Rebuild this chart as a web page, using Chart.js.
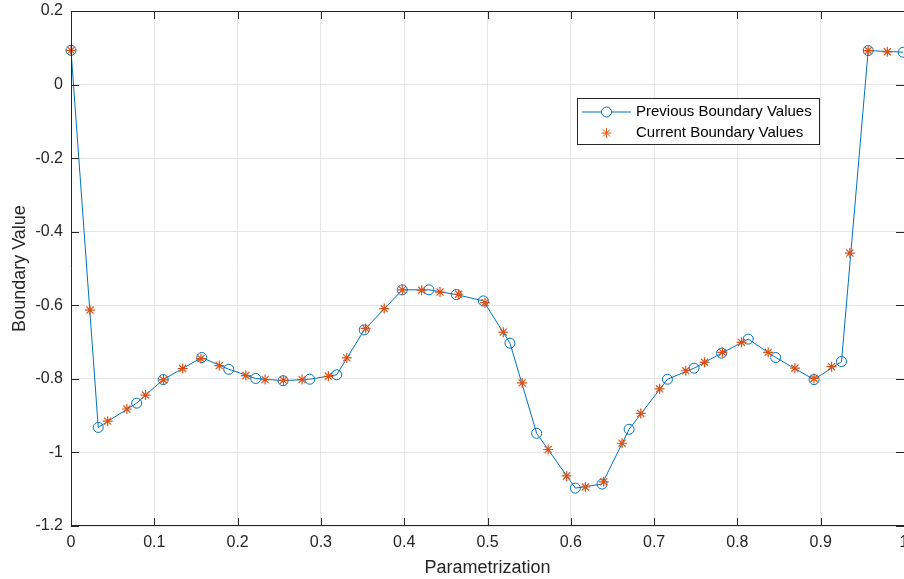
<!DOCTYPE html>
<html>
<head>
<meta charset="utf-8">
<script src="https://cdn.jsdelivr.net/npm/chart.js@4"></script>
<style>
  body { margin: 0; background: #fff; overflow: hidden; }
</style>
</head>
<body>
<canvas id="boundaryChart" width="904" height="579"></canvas>
<script>
// previous boundary values (circles + line)
const prevX = [0, 0.0327, 0.0788, 0.1107, 0.157, 0.1894, 0.2218, 0.2546, 0.2866, 0.319, 0.352, 0.3977, 0.4297, 0.4625, 0.495, 0.527, 0.559, 0.6055, 0.6375, 0.670, 0.716, 0.748, 0.781, 0.813, 0.846, 0.892, 0.925, 0.957, 0.999];
const prevY = [0.093, -0.932, -0.866, -0.802, -0.742, -0.774, -0.799, -0.805, -0.801, -0.789, -0.667, -0.558, -0.558, -0.571, -0.588, -0.703, -0.948, -1.097, -1.086, -0.937, -0.801, -0.771, -0.730, -0.692, -0.742, -0.802, -0.753, 0.0925, 0.088];

// current boundary values (stars only)
const currX = [0, 0.0228, 0.044, 0.0671, 0.0895, 0.111, 0.134, 0.156, 0.178, 0.21, 0.233, 0.255, 0.2774, 0.309, 0.331, 0.3537, 0.376, 0.3977, 0.4209, 0.443, 0.4652, 0.497, 0.519, 0.5416, 0.5728, 0.595, 0.6175, 0.6395, 0.6615, 0.684, 0.7066, 0.738, 0.7606, 0.782, 0.805, 0.837, 0.869, 0.892, 0.913, 0.935, 0.957, 0.980];
const currY = [0.093, -0.613, -0.915, -0.882, -0.844, -0.803, -0.772, -0.745, -0.764, -0.791, -0.802, -0.804, -0.802, -0.793, -0.743, -0.663, -0.609, -0.558, -0.559, -0.564, -0.570, -0.593, -0.673, -0.811, -0.992, -1.064, -1.094, -1.080, -0.975, -0.894, -0.827, -0.778, -0.755, -0.728, -0.701, -0.728, -0.771, -0.799, -0.767, -0.458, 0.0925, 0.089];

const seriesNames = ["Previous Boundary Values", "Current Boundary Values"];

const blue = "#0072BD";
const orange = "#D95319";
const axisColor = "#262626";
const FONT = "'Liberation Sans', Arial, Helvetica, sans-serif";

const toPoints = (xs, ys) => xs.map((x, i) => ({ x: x, y: ys[i] }));

// box + inward ticks like matlab, plus the legend box
const boxPlugin = {
  id: "boxTicks",
  afterDatasetsDraw(chart) {
    const ctx = chart.ctx;
    const a = chart.chartArea;
    const xs = chart.scales.x, ys = chart.scales.y;
    ctx.save();
    ctx.strokeStyle = axisColor;
    ctx.lineWidth = 1;
    ctx.beginPath();
    ctx.rect(a.left + 0.5, a.top + 0.5, a.right - a.left, a.bottom - a.top - 1);
    xs.ticks.forEach((t) => {
      const px = Math.round(xs.getPixelForValue(t.value)) + 0.5;
      ctx.moveTo(px, a.bottom); ctx.lineTo(px, a.bottom - 8);
      ctx.moveTo(px, a.top); ctx.lineTo(px, a.top + 8);
    });
    ys.ticks.forEach((t) => {
      const py = Math.round(ys.getPixelForValue(t.value)) + 0.5;
      ctx.moveTo(a.left, py); ctx.lineTo(a.left + 8, py);
      ctx.moveTo(a.right, py); ctx.lineTo(a.right - 8, py);
    });
    ctx.stroke();

    // legend
    const lx = 577, ly = 98, lw = 242, lh = 46;
    ctx.fillStyle = "#fff";
    ctx.fillRect(lx, ly, lw, lh);
    ctx.strokeStyle = axisColor;
    ctx.strokeRect(lx + 0.5, ly + 0.5, lw, lh);

    ctx.strokeStyle = blue;
    ctx.beginPath();
    ctx.moveTo(582, 112); ctx.lineTo(631, 112);
    ctx.stroke();
    ctx.fillStyle = "#fff";
    ctx.beginPath();
    ctx.arc(606.5, 112, 5, 0, Math.PI * 2);
    ctx.fill(); ctx.stroke();

    ctx.strokeStyle = orange;
    ctx.beginPath();
    const sx = 606.5, sy = 133, r = 5, d = r * Math.SQRT1_2;
    ctx.moveTo(sx - r, sy); ctx.lineTo(sx + r, sy);
    ctx.moveTo(sx, sy - r); ctx.lineTo(sx, sy + r);
    ctx.moveTo(sx - d, sy - d); ctx.lineTo(sx + d, sy + d);
    ctx.moveTo(sx - d, sy + d); ctx.lineTo(sx + d, sy - d);
    ctx.stroke();

    ctx.fillStyle = "#000";
    ctx.font = "15px " + FONT;
    ctx.textBaseline = "middle";
    ctx.textAlign = "left";
    ctx.fillText(seriesNames[0], 636, 112);
    ctx.fillText(seriesNames[1], 636, 133);
    ctx.restore();
  }
};

const fmt = (v) => {
  const n = Math.round(v * 10) / 10;
  return n === 0 ? "0" : String(n);
};

new Chart(document.getElementById("boundaryChart"), {
  type: "scatter",
  data: {
    datasets: [
      {
        label: seriesNames[0],
        data: toPoints(prevX, prevY),
        showLine: true,
        borderColor: blue,
        borderWidth: 1,
        backgroundColor: "rgba(0,0,0,0)",
        pointStyle: "circle",
        pointRadius: 5,
        pointBorderWidth: 1,
        pointBorderColor: blue,
        pointBackgroundColor: "rgba(0,0,0,0)",
        tension: 0,
        clip: false,
        order: 2,
      },
      {
        label: seriesNames[1],
        data: toPoints(currX, currY),
        showLine: false,
        borderColor: orange,
        backgroundColor: orange,
        pointStyle: "star",
        pointRadius: 5,
        pointBorderWidth: 1.2,
        pointBorderColor: orange,
        clip: false,
        order: 1,
      },
    ],
  },
  options: {
    responsive: false,
    animation: false,
    layout: { autoPadding: false, padding: { top: 11, right: 0, bottom: 0, left: 0 } },
    plugins: {
      legend: { display: false },
      tooltip: { enabled: false },
    },
    scales: {
      x: {
        type: "linear",
        min: 0,
        max: 1,
        afterFit: (s) => { s.height = 53; s.paddingLeft = 0; s.paddingRight = 0; },
        ticks: {
          stepSize: 0.1,
          padding: 7,
          color: axisColor,
          font: { family: FONT, size: 16 },
          maxRotation: 0,
          callback: fmt,
        },
        grid: { color: "#e6e6e6", drawTicks: false },
        border: { display: false },
        title: {
          display: true,
          text: "Parametrization",
          color: axisColor,
          font: { family: FONT, size: 18 },
          padding: { top: 0, bottom: 0 },
        },
      },
      y: {
        type: "linear",
        min: -1.2,
        max: 0.2,
        afterFit: (s) => { s.width = 71; s.paddingTop = 0; s.paddingBottom = 0; },
        ticks: {
          stepSize: 0.2,
          padding: 8,
          color: axisColor,
          font: { family: FONT, size: 16 },
          callback: fmt,
        },
        grid: { color: "#e6e6e6", drawTicks: false },
        border: { display: false },
        title: {
          display: true,
          text: "Boundary Value",
          color: axisColor,
          font: { family: FONT, size: 18 },
          padding: { top: 9, bottom: 0 },
        },
      },
    },
  },
  plugins: [boxPlugin],
});
</script>
</body>
</html>
